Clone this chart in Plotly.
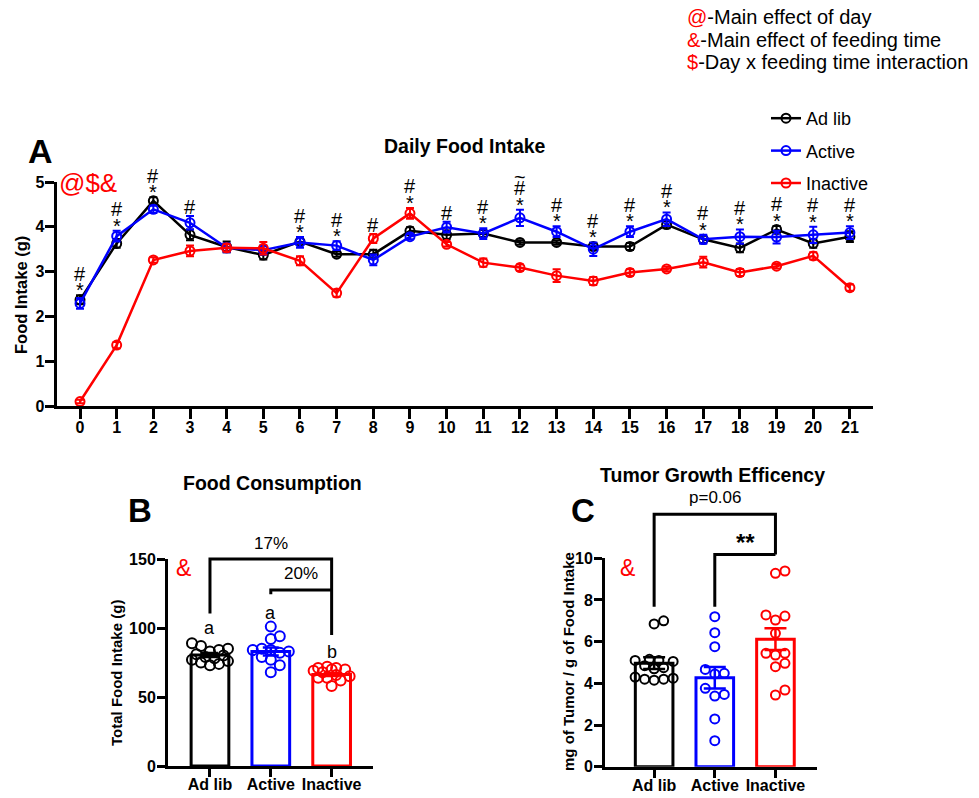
import numpy as np
import plotly.graph_objects as go

# ---------------- data ----------------
days = list(range(22))
adlib_mean = [2.37, 3.63, 4.58, 3.82, 3.55, 3.37, 3.67, 3.39, 3.39, 3.91, 3.82, 3.85,
              3.65, 3.65, 3.56, 3.56, 4.05, 3.72, 3.53, 3.94, 3.63, 3.78]
adlib_sem = [0.10, 0.10, 0.08, 0.12, 0.12, 0.10, 0.08, 0.06, 0.10, 0.08, 0.10, 0.08,
             0.05, 0.05, 0.08, 0.08, 0.08, 0.08, 0.10, 0.08, 0.10, 0.12]
active_mean = [2.29, 3.79, 4.39, 4.09, 3.53, 3.48, 3.65, 3.58, 3.26, 3.78, 3.99, 3.85,
               4.20, 3.89, 3.50, 3.89, 4.17, 3.72, 3.78, 3.77, 3.82, 3.87]
active_sem = [0.12, 0.12, 0.08, 0.15, 0.10, 0.10, 0.12, 0.10, 0.12, 0.06, 0.12, 0.12,
              0.18, 0.12, 0.15, 0.12, 0.15, 0.10, 0.16, 0.14, 0.18, 0.14]
inactive_mean = [0.10, 1.36, 3.26, 3.46, 3.53, 3.52, 3.24, 2.52, 3.74, 4.30, 3.61, 3.20,
                 3.09, 2.91, 2.79, 2.98, 3.06, 3.21, 2.98, 3.12, 3.35, 2.64]
inactive_sem = [0.04, 0.07, 0.06, 0.12, 0.08, 0.14, 0.10, 0.08, 0.10, 0.12, 0.05, 0.09,
                0.07, 0.14, 0.09, 0.07, 0.05, 0.12, 0.08, 0.05, 0.08, 0.07]

hash_days = [0, 1, 2, 3, 6, 7, 8, 9, 10, 11, 12, 13, 14, 15, 16, 17, 18, 19, 20, 21]
star_days = [0, 1, 2, 6, 7, 9, 11, 12, 13, 14, 15, 16, 17, 18, 19, 20, 21]
tilde_days = [12]

groups = ["Ad lib", "Active", "Inactive"]

# Panel B: total food intake (g)
total_adlib = [89, 87, 85, 84, 83, 81, 80, 79, 78, 77, 76, 75, 74, 73]
total_active = [101, 94, 92, 85, 84, 84, 83, 82, 79, 77, 73, 68]
total_inactive = [72, 71, 71, 70, 70, 69, 68, 66, 65, 64, 64, 62, 58]
total_mean = [80.4, 83.0, 66.3]
total_sem = [1.4, 2.9, 1.1]

# Panel C: tumor growth efficiency (mg tumor / g food)
eff_adlib = [7.0, 6.85, 5.15, 5.1, 5.1, 5.05, 4.85, 4.75, 4.7, 4.3, 4.25, 4.2, 4.2, 4.15]
eff_active = [7.2, 6.43, 5.76, 4.67, 4.48, 4.45, 3.76, 3.47, 3.39, 2.29, 1.25]
eff_inactive = [9.28, 9.39, 7.23, 7.04, 7.28, 6.4, 5.44, 5.44, 5.36, 4.96, 4.8, 3.44, 3.68]
eff_mean = [4.97, 4.27, 6.12]
eff_sem = [0.28, 0.52, 0.52]

# ---------------- styling ----------------
W, H = 979, 798
FONT = "Arial, Liberation Sans, Helvetica, sans-serif"
BLACK, BLUE, RED = "#000000", "#0000ff", "#ff0000"
colors = [BLACK, BLUE, RED]


def px(x):
    return x / W


def py(y):
    return 1 - y / H


# domains (pixel-derived)
A_x = [px(56.7), px(873)]
A_y = [py(406), py(182)]
A_xr = [-0.636, 21.63]
B_x = [px(168), px(373)]
B_y = [py(766), py(559)]
B_xr = [-0.69, 2.68]
B_yr = [0, 150]
C_x = [px(605), px(816.7)]
C_y = [py(766.7), py(558.3)]
C_xr = [-0.81, 2.68]
C_yr = [0, 10]

fig = go.Figure()

# ---------------- panel A ----------------
series = [("Ad lib", adlib_mean, adlib_sem, BLACK),
          ("Active", active_mean, active_sem, BLUE),
          ("Inactive", inactive_mean, inactive_sem, RED)]
for name, m, s, c in series:
    fig.add_trace(go.Scatter(
        x=days, y=m, name=name, mode="lines+markers", legendgroup=name,
        line=dict(color=c, width=2.5),
        marker=dict(symbol="circle-open", size=9, color=c, line=dict(width=2, color=c)),
        error_y=dict(type="data", array=s, visible=True, color=c, thickness=2, width=4),
        xaxis="x", yaxis="y", cliponaxis=False))

# ---------------- beeswarm helper ----------------

def swarm(values, ppy, ppx, diam, maxoff):
    placed = []
    res = [0.0] * len(values)
    step = diam / 2.0
    cands = [0.0]
    k = 1
    while k * step <= maxoff + 1e-9:
        cands += [k * step, -k * step]
        k += 1
    order = np.argsort(values)
    for i in order:
        yv = values[i] * ppy
        best = None
        bestd, bestc = -1, 0.0
        for c in cands:
            dmin = min([np.hypot(c - a, yv - b) for a, b in placed], default=1e9)
            if dmin >= diam:
                best = c
                break
            if dmin > bestd:
                bestd, bestc = dmin, c
        if best is None:
            best = bestc
        placed.append((best, yv))
        res[i] = best / ppx
    return res


def bar_panel(ax, means, sems, point_sets, ppy, ppx, msize, diam, cap):
    fig.add_trace(go.Bar(
        x=[0, 1, 2], y=means, width=0.62, showlegend=False,
        marker=dict(color="white", line=dict(color=colors, width=3)),
        xaxis=f"x{ax}", yaxis=f"y{ax}"))
    for i, vals in enumerate(point_sets):
        offs = swarm(vals, ppy, ppx, diam, 20)
        fig.add_trace(go.Scatter(
            x=[i + o for o in offs], y=vals, mode="markers", showlegend=False,
            marker=dict(symbol="circle-open", size=msize, color=colors[i],
                        line=dict(width=2, color=colors[i])),
            xaxis=f"x{ax}", yaxis=f"y{ax}", cliponaxis=False))
    for i in range(3):
        fig.add_trace(go.Scatter(
            x=[i], y=[means[i]], mode="markers", showlegend=False,
            marker=dict(size=0.1, color=colors[i]),
            error_y=dict(type="data", array=[sems[i]], visible=True, color=colors[i],
                         thickness=2.5, width=cap),
            xaxis=f"x{ax}", yaxis=f"y{ax}"))


B_ppx = (373 - 168) / (B_xr[1] - B_xr[0])
B_ppy = (766 - 559) / (B_yr[1] - B_yr[0])
bar_panel(2, total_mean, total_sem, [total_adlib, total_active, total_inactive],
          B_ppy, B_ppx, 10, 9.0, 8)

C_ppx = (816.7 - 605) / (C_xr[1] - C_xr[0])
C_ppy = (766.7 - 558.3) / (C_yr[1] - C_yr[0])
bar_panel(3, eff_mean, eff_sem, [eff_adlib, eff_active, eff_inactive],
          C_ppy, C_ppx, 9, 9.5, 11)

# ---------------- axes ----------------
tickfont = dict(family=FONT, size=16, color="black", weight="bold")
axcommon = dict(showline=True, linecolor="black", linewidth=3, ticks="outside",
                tickcolor="black", showgrid=False, zeroline=False, tickfont=tickfont,
                automargin=False)

fig.update_layout(
    xaxis=dict(domain=A_x, range=A_xr, anchor="y", tickvals=days, ticklen=10, tickwidth=3,
               ticklabelstandoff=-5, **axcommon),
    yaxis=dict(domain=A_y, range=[0, 5], anchor="x", tickvals=[0, 1, 2, 3, 4, 5], ticklen=9, tickwidth=3,
               ticklabelstandoff=-3, **axcommon),
    xaxis2=dict(domain=B_x, range=B_xr, anchor="y2", tickvals=[0, 1, 2], ticktext=groups, ticklen=8,
                tickwidth=2.5, ticklabelstandoff=-6, **axcommon),
    yaxis2=dict(domain=B_y, range=B_yr, anchor="x2", tickvals=[0, 50, 100, 150], ticklen=8,
                tickwidth=2.5, ticklabelstandoff=-2, **axcommon),
    xaxis3=dict(domain=C_x, range=C_xr, anchor="y3", tickvals=[0, 1, 2], ticktext=groups, ticklen=8,
                tickwidth=2.5, ticklabelstandoff=-6, **axcommon),
    yaxis3=dict(domain=C_y, range=C_yr, anchor="x3", tickvals=[0, 2, 4, 6, 8, 10], ticklen=8,
                tickwidth=2.5, ticklabelstandoff=-2, **axcommon),
)

# ---------------- annotations ----------------
ann = []


def txt(x, y, text, size, bold=False, color="black", angle=0, xanchor="center", yanchor="middle"):
    ann.append(dict(x=x, y=y, xref="paper", yref="paper", text=text, showarrow=False,
                    xanchor=xanchor, yanchor=yanchor, textangle=angle,
                    font=dict(family=FONT, size=size, color=color, weight="bold" if bold else "normal")))


# top-right key
key_lines = [("@", "-Main effect of day"), ("&amp;", "-Main effect of feeding time"),
             ("$", "-Day x feeding time interaction")]
for j, (sym, rest) in enumerate(key_lines):
    ann.append(dict(x=px(685), y=py(17 + 22.5 * j), xref="paper", yref="paper",
                    text=f"<span style='color:{RED}'>{sym}</span>{rest}", showarrow=False,
                    xanchor="left", yanchor="middle", font=dict(family=FONT, size=20, color="black")))

# panel letters / titles
txt(px(40), py(151), "A", 34, bold=True)
txt(px(140), py(510), "B", 33, bold=True)
txt(px(583), py(510), "C", 33, bold=True)
txt(px(465), py(146), "Daily Food Intake", 19.5, bold=True)
txt(px(272), py(483), "Food Consumption", 19.5, bold=True)
txt(px(712), py(475), "Tumor Growth Efficency", 19.5, bold=True)
txt(px(88), py(183), "@$&amp;", 26, color=RED)
txt(px(183), py(568), "&amp;", 23, color=RED)
txt(px(627), py(568), "&amp;", 23, color=RED)

# axis titles
txt(px(21), py(295), "Food Intake (g)", 16.5, bold=True, angle=-90)
txt(px(116), py(673), "Total Food Intake (g)", 15, bold=True, angle=-90)
txt(px(568), py(662), "mg of Tumor / g of Food Intake", 15, bold=True, angle=-90)

# significance marks on panel A
tops = [max(m + s for m, s in zip(ms, ss)) for ms, ss in
        zip(zip(adlib_mean, active_mean, inactive_mean), zip(adlib_sem, active_sem, inactive_sem))]
for d in days:
    marks = []
    if d in star_days:
        marks.append(("*", 3))
    if d in hash_days:
        marks.append(("#", -1))
    if d in tilde_days:
        marks.append(("~", 0))
    shift = 0
    for k, (mk, corr) in enumerate(marks):
        shift += 8 if k == 0 else 12.5
        ann.append(dict(x=d, y=tops[d], xref="x", yref="y", text=mk, showarrow=False,
                        xanchor="center", yanchor="middle", yshift=shift - corr,
                        font=dict(family=FONT, size=20, color="black")))


def dref(v, r):
    return (v - r[0]) / (r[1] - r[0])


def dtxt(ax, xr, yr, x, y, text, size, bold=False):
    ann.append(dict(x=dref(x, xr), y=dref(y, yr), xref=f"x{ax} domain", yref=f"y{ax} domain",
                    text=text, showarrow=False, xanchor="center", yanchor="middle",
                    font=dict(family=FONT, size=size, color="black", weight="bold" if bold else "normal")))


dtxt(2, B_xr, B_yr, 1.0, 161, "17%", 17)
dtxt(2, B_xr, B_yr, 1.5, 139.6, "20%", 17)
dtxt(2, B_xr, B_yr, 0, 99.8, "a", 18)
dtxt(2, B_xr, B_yr, 1, 111, "a", 18)
dtxt(2, B_xr, B_yr, 2, 82.8, "b", 18)
dtxt(3, C_xr, C_yr, 1.0, 12.9, "p=0.06", 17)
dtxt(3, C_xr, C_yr, 1.5, 10.75, "**", 24, bold=True)

# brackets
shapes = []


def bracket(ax, xr, yr, pts):
    path = "M " + " L ".join(f"{dref(x, xr):.5f},{dref(y, yr):.5f}" for x, y in pts)
    shapes.append(dict(type="path", path=path, xref=f"x{ax} domain", yref=f"y{ax} domain",
                       line=dict(color="black", width=3)))


bracket(2, B_xr, B_yr, [(0, 110.5), (0, 150), (2, 150), (2, 95)])
bracket(2, B_xr, B_yr, [(1, 124.5), (1, 127.5), (2, 127.5)])
bracket(3, C_xr, C_yr, [(0, 7.68), (0, 12.11), (2, 12.11), (2, 10.18)])
bracket(3, C_xr, C_yr, [(1, 7.68), (1, 10.18), (2, 10.18)])

fig.update_layout(
    template="none",
    width=W, height=H, margin=dict(l=0, r=0, t=0, b=0, pad=0, autoexpand=False),
    paper_bgcolor="white", plot_bgcolor="white",
    annotations=ann, shapes=shapes, barmode="overlay",
    legend=dict(x=px(766), y=py(100), xanchor="left", yanchor="top",
                font=dict(family=FONT, size=18, color="black"),
                tracegroupgap=6, bgcolor="rgba(0,0,0,0)", itemwidth=30),
    showlegend=True,
)

fig.write_html("out.html", config={"displayModeBar": False},
               post_script="document.body.style.margin='0';")
